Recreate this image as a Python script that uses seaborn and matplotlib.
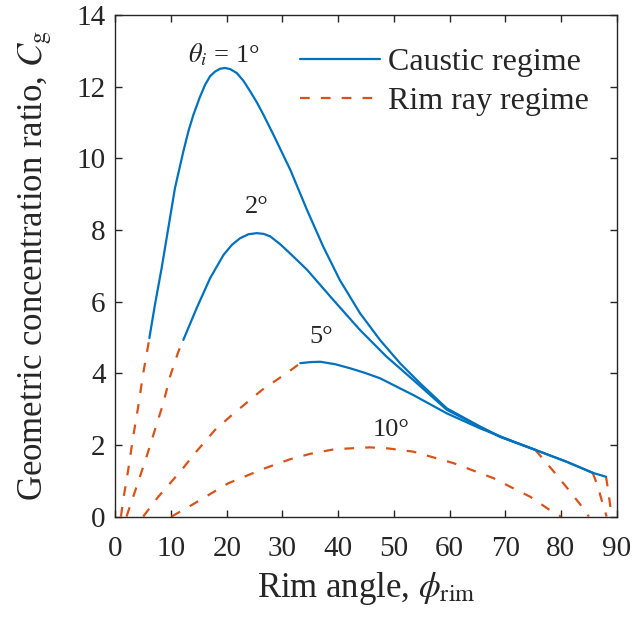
import numpy as np
import pandas as pd
import matplotlib
matplotlib.use("Agg")
import matplotlib.pyplot as plt
from matplotlib.lines import Line2D
import seaborn as sns

# values
# theta_i = 1 deg
c1_x = [6.1, 7.1, 8.3, 9.5, 10.7, 12.2, 13.1, 14.0, 15.1, 16.1, 17.0, 17.9, 18.8, 19.7, 20.6, 21.8,
        23.0, 24.2, 25.4, 26.6, 28.4, 31.4, 34.4, 37.3, 40.3, 43.9, 47.5, 51.1, 54.7, 59.5, 65.5,
        69.1, 75.4, 81.0, 85.7, 88.1]
c1_y = [4.98, 5.91, 6.93, 8.05, 9.17, 10.19, 10.75, 11.21, 11.68, 12.05, 12.29, 12.42, 12.5, 12.52, 12.49, 12.38,
        12.16, 11.87, 11.56, 11.21, 10.65, 9.68, 8.56, 7.54, 6.6, 5.68, 4.93, 4.28, 3.72, 3.02, 2.51,
        2.23, 1.86, 1.53, 1.22, 1.11]
r1a_x = [1.0, 1.4, 2.3, 3.2, 4.1, 5.0, 5.9, 6.1]
r1a_y = [0.0, 0.46, 1.3, 2.23, 3.07, 4.0, 4.79, 4.98]
r1b_x = [88.1, 88.5, 88.9, 89.1]
r1b_y = [1.11, 0.7, 0.25, 0.0]

# theta_i = 2 deg
c2_x = [12.2, 14.6, 17.0, 19.4, 20.9, 22.4, 23.9, 25.4, 26.6, 27.8, 29.6, 31.8, 34.4, 39.1, 43.9,
        48.7, 53.5, 59.5, 65.5, 69.1, 75.4, 81.0, 85.7]
c2_y = [4.93, 5.82, 6.65, 7.3, 7.58, 7.77, 7.88, 7.91, 7.89, 7.82, 7.6, 7.28, 6.89, 6.05, 5.21,
        4.46, 3.81, 2.98, 2.5, 2.22, 1.86, 1.53, 1.22]
r2a_x = [2.0, 3.8, 5.6, 7.1, 8.6, 9.8, 11.3, 12.2]
r2a_y = [0.0, 0.83, 1.67, 2.42, 3.16, 3.9, 4.6, 4.93]
r2b_x = [85.7, 86.6, 87.4, 88.2]
r2b_y = [1.22, 0.85, 0.41, 0.0]

# theta_i = 5 deg
c5_x = [33.2, 35.0, 36.8, 39.5, 42.1, 44.8, 47.5, 53.5, 59.5, 65.5, 71.5, 75.4]
c5_y = [4.28, 4.31, 4.32, 4.25, 4.14, 4.01, 3.86, 3.39, 2.88, 2.46, 2.09, 1.86]
r5a_x = [5.0, 7.7, 11.9, 14.3, 17.9, 20.9, 26.3, 31.1, 33.2]
r5a_y = [0.0, 0.55, 1.3, 1.77, 2.42, 2.83, 3.53, 4.04, 4.28]
r5b_x = [75.4, 78.9, 81.2, 83.4, 85.0]
r5b_y = [1.86, 1.22, 0.78, 0.35, 0.0]

# theta_i = 10 deg (rim ray only)
r10_x = [10.1, 13.7, 20.3, 26.9, 31.4, 35.0, 39.4, 45.7, 49.0, 53.5, 60.7, 67.9, 70.9, 74.5, 78.0, 80.0]
r10_y = [0.0, 0.32, 0.93, 1.35, 1.6, 1.75, 1.88, 1.93, 1.9, 1.81, 1.49, 1.07, 0.83, 0.55, 0.18, 0.0]

labels = [r"$\theta_i$ = 1°", "2°", "5°", "10°"]
label_pos = [(19.4, 12.9), (25.3, 8.64), (36.9, 5.02), (49.5, 2.42)]

blue = "#0072BD"
orange = "#D95319"

sns.set_style("ticks")
plt.rcParams["font.family"] = ["Liberation Serif", "DejaVu Serif"]
plt.rcParams["mathtext.fontset"] = "stix"
plt.rcParams["lines.scale_dashes"] = False

fig = plt.figure(figsize=(6.34, 6.22), dpi=100)
ax = fig.add_axes([0.182, 0.1696, 0.7906, 0.8063])

dash = (0, (7, 8))
for xs, ys in [(r1a_x, r1a_y), (r1b_x, r1b_y), (r2a_x, r2a_y), (r2b_x, r2b_y),
               (r5a_x, r5a_y), (r5b_x, r5b_y), (r10_x, r10_y)]:
    df = pd.DataFrame({"x": xs, "y": ys})
    sns.lineplot(data=df, x="x", y="y", ax=ax, color=orange, linestyle=dash,
                 linewidth=1.6, sort=False, estimator=None)
for xs, ys in [(c1_x, c1_y), (c2_x, c2_y), (c5_x, c5_y)]:
    df = pd.DataFrame({"x": xs, "y": ys})
    sns.lineplot(data=df, x="x", y="y", ax=ax, color=blue, linewidth=1.6,
                 sort=False, estimator=None)

for txt, (tx, ty) in zip(labels, label_pos):
    ax.text(tx, ty, txt, fontsize=19, ha="center", va="center")

ax.set_xlim(0, 90)
ax.set_ylim(0, 14)
ax.set_xticks(np.arange(0, 91, 10))
ax.set_yticks(np.arange(0, 15, 2))
ax.tick_params(direction="in", top=True, right=True, labelsize=21, length=5,
               width=1, color="#262626")
ax.tick_params(axis="x", pad=14)
ax.tick_params(axis="y", pad=7)
for s in ax.spines.values():
    s.set_visible(True)
    s.set_color("#262626")
    s.set_linewidth(1)

ax.set_xlabel(r"Rim angle, $\phi_{\mathrm{rim}}$", fontsize=25, labelpad=6)
ax.set_ylabel(r"Geometric concentration ratio, $C_{\mathrm{g}}$", fontsize=25, labelpad=16)

handles = [Line2D([], [], color=blue, linewidth=1.6),
           Line2D([], [], color=orange, linewidth=1.6, linestyle=dash)]
ax.legend(handles, ["Caustic regime", "Rim ray regime"], loc="upper left",
          bbox_to_anchor=(0.368, 0.935), frameon=False, fontsize=23,
          handlelength=2.5, handletextpad=0.25, borderpad=0, borderaxespad=0,
          labelspacing=0.3)

fig.savefig("out.png", dpi=100)
